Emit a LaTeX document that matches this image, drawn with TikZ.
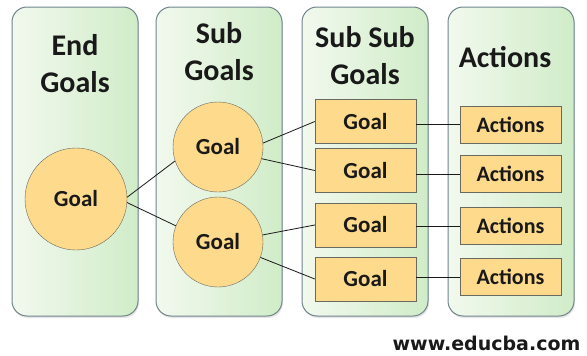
\documentclass[tikz,border=0pt]{standalone}
\usepackage{fontspec}
\setmainfont{Carlito}
\newfontfamily\webfont{DejaVu Sans}
\usetikzlibrary{positioning,shadows}

\definecolor{panelgreen}{RGB}{208,236,200}
\definecolor{panelpale}{RGB}{242,249,238}
\definecolor{panelline}{RGB}{112,132,140}
\definecolor{goalfill}{RGB}{253,218,140}
\definecolor{goalline}{RGB}{105,105,95}
\definecolor{inkcol}{RGB}{25,25,25}

\tikzset{
	column/.style={rounded corners=15pt, draw=panelline, line width=1pt,
		left color=panelpale, right color=panelgreen,
		minimum width=126pt, minimum height=309pt,
		drop shadow={opacity=0.2, shadow xshift=1pt, shadow yshift=-2pt}},
	heading/.style={font=\fontsize{30}{37}\selectfont\bfseries, text=inkcol, align=center},
	goalcirc/.style={circle, draw=goalline, fill=goalfill, inner sep=0pt,
		font=\fontsize{23}{24}\selectfont\bfseries, text=inkcol},
	goalbox/.style={draw=goalline, fill=goalfill, minimum width=101pt, minimum height=44pt,
		font=\fontsize{23}{24}\selectfont\bfseries, text=inkcol},
	actbox/.style={draw=goalline, fill=goalfill, minimum width=101pt, minimum height=37pt,
		font=\fontsize{22}{23}\selectfont\bfseries, text=inkcol},
	link/.style={draw=inkcol, line width=0.8pt}
}

\begin{document}
\begin{tikzpicture}[x=1pt, y=-1pt]
	\useasboundingbox (0,0) rectangle (587,356);

	% columns
	\node[column]	(endcol)	at (75,161.5)	{};
	\node[column]	(subcol)	at (219,161.5)	{};
	\node[column]	(subsubcol)	at (365,161.5)	{};
	\node[column]	(actcol)	at (511,161.5)	{};

	\node[heading]	(endhead)	at (75,63.5)	{End\\Goals};
	\node[heading]	(subhead)	at (219,51.5)	{Sub\\Goals};
	\node[heading]	(subsubhead)	at (365,56)	{Sub Sub\\Goals};
	\node[heading]	(acthead)	at (505,57)	{Actions};

	% goals
	\node[goalcirc, minimum size=102pt]	(endgoal)	at (76,199)	{Goal};
	\node[goalcirc, minimum size=90pt]	(subgoal1)	at (218,147)	{Goal};
	\node[goalcirc, minimum size=90pt]	(subgoal2)	at (218,242)	{Goal};

	\node[goalbox]	(goal1)	at (365.5,121.5)	{Goal};
	\node[goalbox]	(goal2)	at (365.5,170.5)	{Goal};
	\node[goalbox]	(goal3)	at (365.5,225)	{Goal};
	\node[goalbox]	(goal4)	at (365.5,279)	{Goal};

	\node[actbox]	(act1)	at (510.5,124.5)	{Actions};
	\node[actbox]	(act2)	at (510.5,174)	{Actions};
	\node[actbox]	(act3)	at (510.5,226)	{Actions};
	\node[actbox]	(act4)	at (510.5,277)	{Actions};

	\node[font=\webfont\bfseries\fontsize{19}{20}\selectfont, text=inkcol]	(site)	at (486.5,343)	{www.educba.com};

	% links
	\draw[link]	(endgoal.2)	--	(subgoal1.198);
	\draw[link]	(endgoal.-4)	--	(subgoal2.159);
	\draw[link]	(subgoal1.5)	--	(goal1.west);
	\draw[link]	(subgoal1.-15)	--	(goal2.west);
	\draw[link]	(subgoal2.9)	--	(goal3.west);
	\draw[link]	(subgoal2.-20)	--	(goal4.west);

	\foreach \i in {1,...,4}
		\draw[link]	(act\i.west)	--	(act\i.west -| goal\i.east);

\end{tikzpicture}
\end{document}
